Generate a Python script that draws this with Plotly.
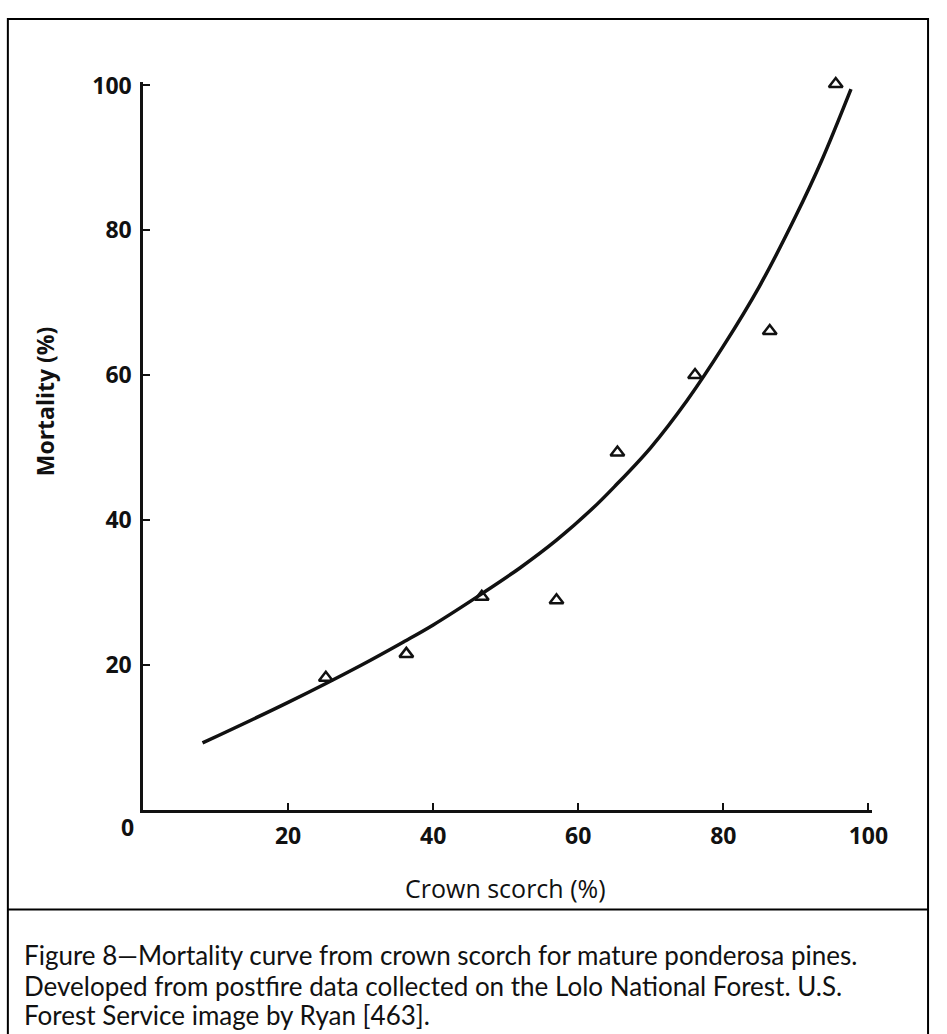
import plotly.graph_objects as go

# Observed data (triangles)
obs_scorch = [25.2, 36.3, 46.7, 57.0, 65.4, 76.1, 86.4, 95.5]
obs_mortality = [18.2, 21.5, 29.4, 28.9, 49.3, 60.0, 66.1, 100.2]

# Fitted curve
curve_scorch = [8.2, 20, 30, 36, 40, 47, 52, 57, 62, 65, 70, 75, 80, 85, 90, 93.5, 97.6]
curve_mortality = [9.2, 14.8, 19.9, 23.2, 25.5, 30.0, 33.4, 37.2, 41.6, 44.6, 50.0, 56.5, 64.0, 72.3, 82.0, 89.5, 99.5]

x_ticks = [20, 40, 60, 80, 100]
y_ticks = [20, 40, 60, 80, 100]
origin_label = "0"
x_title = "Crown scorch (%)"
y_title = "Mortality (%)"
caption_lines = [
    "Figure 8\u2014Mortality curve from crown scorch for mature ponderosa pines.",
    "Developed from postfire data collected on the Lolo National Forest. U.S.",
    "Forest Service image by Ryan [463].",
]

W, H = 947, 1034
def px(x):
    return x / W
def py(y):
    return 1 - y / H

Y_TOP = 100.5
y_top_px = 806.7 - Y_TOP * 7.333

fig = go.Figure()
fig.add_trace(go.Scatter(
    x=curve_scorch, y=curve_mortality, mode="lines",
    line=dict(color="#111111", width=3.5, shape="spline", smoothing=1.0),
    hoverinfo="skip", showlegend=False, cliponaxis=False))
fig.add_trace(go.Scatter(
    x=obs_scorch, y=obs_mortality, mode="markers",
    marker=dict(symbol="triangle-up-open", size=12, color="#111111",
                line=dict(width=2.5, color="#111111")),
    showlegend=False, cliponaxis=False))

tick_font = dict(family="Open Sans", size=23, color="#111111", weight="bold")

fig.update_layout(
    width=W, height=H,
    margin=dict(l=0, r=0, t=0, b=0),
    paper_bgcolor="white", plot_bgcolor="white",
    xaxis=dict(domain=[px(145.5), px(887)], range=[0, 100.5],
               tickvals=x_ticks, ticktext=[str(v) for v in x_ticks],
               ticks="inside", ticklen=7, tickwidth=2, tickcolor="#111111",
               showline=True, linecolor="#111111", linewidth=2.5,
               showgrid=False, zeroline=False, tickfont=tick_font,
               ticklabelstandoff=4, fixedrange=True),
    yaxis=dict(domain=[py(806.7), py(y_top_px)], range=[0, Y_TOP],
               tickvals=y_ticks, ticktext=[str(v) for v in y_ticks],
               ticks="inside", ticklen=7, tickwidth=2, tickcolor="#111111",
               showline=True, linecolor="#111111", linewidth=2.5,
               showgrid=False, zeroline=False, tickfont=tick_font,
               ticklabelstandoff=4, fixedrange=True),
)

annotations = [
    dict(text=origin_label, x=px(130), y=py(824), xref="paper", yref="paper",
         showarrow=False, xanchor="center", yanchor="middle", font=tick_font),
    dict(text=x_title, x=px(514), y=py(886), xref="paper", yref="paper",
         showarrow=False, xanchor="center", yanchor="middle",
         font=dict(family="Open Sans", size=25, color="#111111")),
    dict(text=y_title, x=px(46), y=py(393), xref="paper", yref="paper",
         showarrow=False, xanchor="center", yanchor="middle", textangle=-90,
         font=dict(family="Open Sans", size=23, color="#111111", weight="bold")),
]
cap_y = [954, 985, 1015]
for line, yy in zip(caption_lines, cap_y):
    annotations.append(dict(text=line, x=px(22), y=py(yy), xref="paper", yref="paper",
                            showarrow=False, xanchor="left", yanchor="middle",
                            font=dict(family="Lato", size=26, color="#111111")))
fig.update_layout(annotations=annotations)

# Frame boxes
fig.add_shape(type="rect", xref="paper", yref="paper",
              x0=px(8), x1=px(944), y0=py(1040), y1=py(6),
              line=dict(color="black", width=2))
fig.add_shape(type="line", xref="paper", yref="paper",
              x0=px(8), x1=px(944), y0=py(908), y1=py(908),
              line=dict(color="black", width=2))

fig.write_html("out.html", config={"displayModeBar": False},
               post_script="document.body.style.margin='0';document.body.style.overflow='hidden';")
